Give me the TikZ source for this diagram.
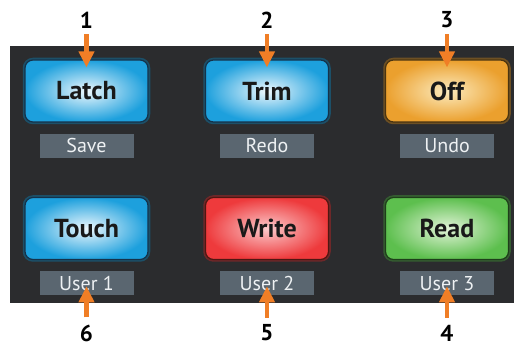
\documentclass[tikz,border=0pt]{standalone}
\usepackage{fontspec}
\setmainfont{PT Sans}
\usetikzlibrary{arrows.meta,positioning}

\definecolor{panel}{HTML}{2B2C2E}
\definecolor{blueout}{HTML}{1DA0DD}
\definecolor{bluein}{HTML}{EEF8FD}
\definecolor{blueedge}{HTML}{15324A}
\definecolor{orangeout}{HTML}{EBA02E}
\definecolor{orangein}{HTML}{FCEBBE}
\definecolor{orangeedge}{HTML}{4A3410}
\definecolor{redout}{HTML}{EE3A3C}
\definecolor{redin}{HTML}{FBCACC}
\definecolor{rededge}{HTML}{4E1712}
\definecolor{greenout}{HTML}{5DBF4E}
\definecolor{greenin}{HTML}{E2F4D8}
\definecolor{greenedge}{HTML}{1E3E1A}
\definecolor{tagfill}{HTML}{5A6670}
\definecolor{tagtext}{HTML}{EEF1F3}
\definecolor{calloutorange}{HTML}{F07E26}

\tikzset{
  btn/.style={rounded corners=8pt, minimum width=123pt, minimum height=62pt,
    inner color=#1in, outer color=#1out, draw=#1edge, line width=1.2pt,
    preaction={draw=#1out!65!black, line width=4.5pt, opacity=0.6},
    font=\fontsize{26}{26}\selectfont\bfseries, text=black!90},
  tag/.style={fill=tagfill, minimum width=94pt, minimum height=24pt, inner sep=0pt,
    text=tagtext, font=\fontsize{20}{20}\selectfont},
  num/.style={inner sep=0pt, font=\fontsize{23}{23}\selectfont\bfseries},
  callout/.style={draw=calloutorange, line width=4.5pt, -{Triangle[length=16pt,width=15pt]}}
}

\begin{document}
\begin{tikzpicture}[x=1pt,y=-1pt]
  \useasboundingbox (0,0) rectangle (514,347);
  \fill[panel] (10,46) rectangle (514,303);
  % buttons and their second functions
  \foreach \name/\txt/\tag/\tagtxt/\x/\y/\hue in {latch/Latch/save/Save/86.5/91/blue,
      trim/Trim/redo/Redo/267/91/blue, off/Off/undo/Undo/447/91/orange,
      touch/Touch/user1/User 1/86.5/228.5/blue, write/Write/user2/User 2/267/228.5/red,
      read/Read/user3/User 3/447/228.5/green}
  {
    \node[btn=\hue] (\name) at (\x,\y) {\txt};
    \node[tag, below=11pt of \name] (\tag) {\tagtxt};
  }
  % callout numbers
  \node[num] (n1) at (86.5,20) {1};
  \node[num] (n2) at (267,20) {2};
  \node[num] (n3) at (447,20) {3};
  \node[num] (n6) at (86.5,333) {6};
  \node[num] (n5) at (267,333) {5};
  \node[num] (n4) at (447,333) {4};
  \foreach \n/\target in {n1/latch, n2/trim, n3/off}
    \draw[callout] ([yshift=-6pt]\n.south) -- ([yshift=-8pt]\target.north);
  \foreach \n/\target in {n6/user1, n5/user2, n4/user3}
    \draw[callout] ([yshift=7pt]\n.north) -- ([yshift=-3pt]\target.center);
\end{tikzpicture}
\end{document}
